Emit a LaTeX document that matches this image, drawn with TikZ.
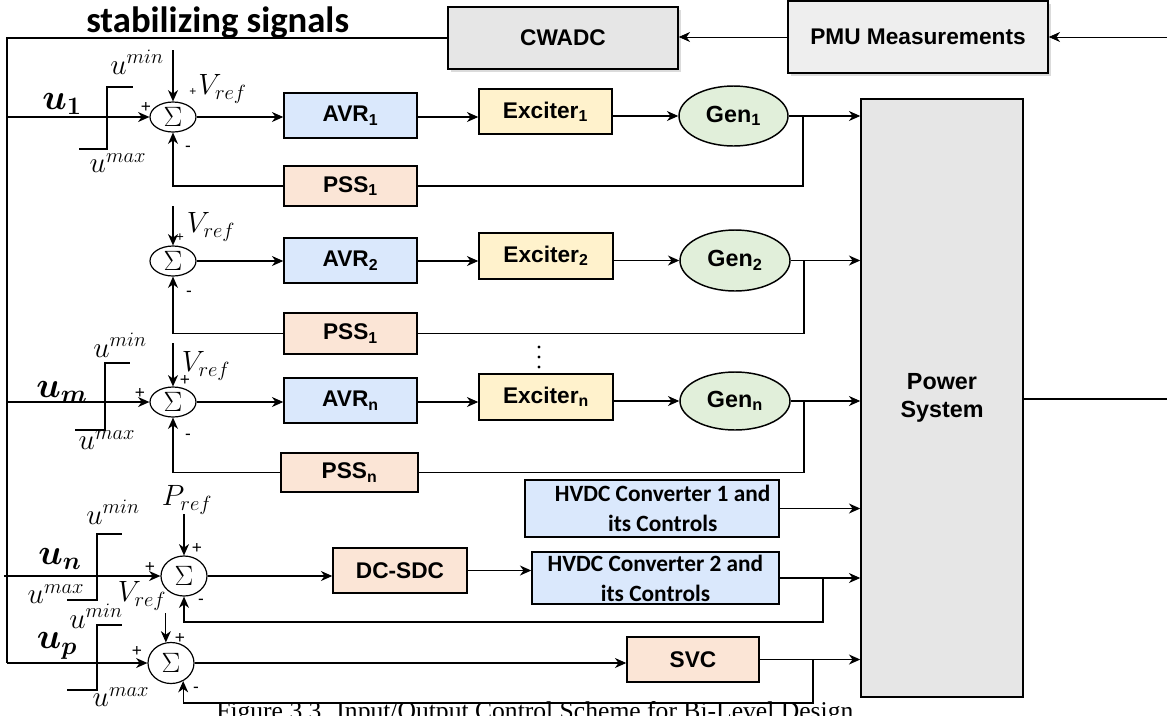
\RequirePackage{fix-cm}
\documentclass[tikz,border=0pt]{standalone}
\usepackage[no-math]{fontspec}
\usepackage{bm}
\setmainfont{Liberation Serif}
\newfontfamily\arialf{Liberation Sans}
\newfontfamily\calibrif{Carlito}
\usetikzlibrary{arrows.meta,shapes.geometric,shadows}

\definecolor{avrc}{HTML}{DAE8FC}
\definecolor{excc}{HTML}{FFF2CC}
\definecolor{genc}{HTML}{E1EFDA}
\definecolor{pssc}{HTML}{FBE5D6}
\definecolor{grayc}{HTML}{E6E6E6}
\definecolor{pmuc}{HTML}{EEEEEE}

\tikzset{
  wire/.style={line width=0.8pt},
  arr/.style={wire,-{Stealth[length=8.5pt,width=7.5pt,inset=2.7pt]}},
  blk/.style 2 args={draw,line width=1.1pt,rectangle,inner sep=0pt,
    minimum width=#1*0.75pt,minimum height=#2*0.75pt,
    font=\arialf\bfseries\fontsize{17}{20}\selectfont},
  genblk/.style 2 args={draw,line width=1.1pt,ellipse,inner sep=0pt,fill=genc,
    minimum width=#1*0.75pt,minimum height=#2*0.75pt,
    font=\arialf\bfseries\fontsize{17.5}{20}\selectfont},
  sumblk/.style 2 args={draw,line width=0.9pt,ellipse,inner sep=0pt,
    minimum width=#1*0.75pt,minimum height=#2*0.75pt,
    font=\fontsize{21}{23}\selectfont},
  hvdcblk/.style 2 args={blk={#1}{#2},fill=avrc,align=center,
    font=\calibrif\bfseries\fontsize{17.5}{22.5}\selectfont},
  boxshadow/.style={drop shadow={shadow xshift=2pt,shadow yshift=-2pt,
    fill=black!40,opacity=0.35}},
  mlbl/.style={inner sep=0pt,font=\fontsize{22}{24}\selectfont},
  ulbl/.style={inner sep=0pt,font=\fontsize{27}{30}\selectfont},
  sgn/.style={inner sep=0pt,font=\arialf\fontsize{13}{14}\selectfont},
  satline/.style={line width=1.1pt},
}

\begin{document}
\begin{tikzpicture}[x=0.75pt,y=-0.75pt]
\useasboundingbox (0,0) rectangle (1167,715);

% ---- supervisory level
\node[blk={230}{62},fill=grayc,boxshadow] (cwadc) at (563,38) {CWADC};
\node[blk={260}{72},fill=pmuc,boxshadow] (pmu) at (918,37) {PMU Measurements};
\node[blk={162}{598},fill=grayc,align=center,font=\arialf\bfseries\fontsize{17.5}{21}\selectfont] (ps) at (942,398) {Power\\System};
\node[anchor=base west,inner sep=0pt,font=\calibrif\bfseries\fontsize{27.5}{30}\selectfont] (title) at (86,32) {stabilizing signals};

% ---- generator 1
\node[sumblk={46}{30}] (s1) at (173,117) {$\Sigma$};
\node[blk={133}{45},fill=avrc] (avr1) at (350.5,115.5) {AVR\textsubscript{1}};
\node[blk={133}{45},fill=excc] (exc1) at (545.5,111.5) {Exciter\textsubscript{1}};
\node[genblk={109}{60}] (gen1) at (733.5,116) {Gen\textsubscript{1}};
\node[blk={133}{40},fill=pssc] (pssa) at (350.5,186) {PSS\textsubscript{1}};

% ---- generator 2
\node[sumblk={46}{30}] (s2) at (173,261) {$\Sigma$};
\node[blk={133}{45},fill=avrc] (avr2) at (350.5,260.5) {AVR\textsubscript{2}};
\node[blk={134}{46},fill=excc] (exc2) at (546,256) {Exciter\textsubscript{2}};
\node[genblk={110}{61}] (gen2) at (735,260.5) {Gen\textsubscript{2}};
\node[blk={133}{41},fill=pssc] (pssb) at (350.5,333.5) {PSS\textsubscript{1}};

% ---- generator n
\node[sumblk={46}{30}] (s3) at (173,402) {$\Sigma$};
\node[blk={133}{45},fill=avrc] (avrn) at (350.5,400.5) {AVR\textsubscript{n}};
\node[blk={134}{46},fill=excc] (excn) at (546,397) {Exciter\textsubscript{n}};
\node[genblk={110}{58}] (genn) at (735,401) {Gen\textsubscript{n}};
\node[blk={137}{39},fill=pssc] (pssn) at (349.5,472.5) {PSS\textsubscript{n}};
\foreach \yy in {347,357,367} \fill (539,\yy) circle (1.7);

% ---- HVDC
\node[sumblk={46}{40}] (s4) at (184,576) {$\Sigma$};
\node[blk={134}{45},fill=pssc] (dcsdc) at (400,570.5) {DC-SDC};
\node[hvdcblk={254}{57}] (hvdc1) at (652,508.5) {\hspace*{16pt}HVDC Converter 1 and\\\hspace*{16pt}its Controls};
\node[hvdcblk={247}{52}] (hvdc2) at (655.5,578) {HVDC Converter 2 and\\its Controls};

% ---- SVC
\node[sumblk={46}{41}] (s5) at (171,663) {$\Sigma$};
\node[blk={132}{45},fill=pssc] (svc) at (693,659.5) {SVC};

% ---- signal bus and measurement loop
\coordinate (busTop) at (7,38);
\coordinate (busBot) at (7,663);
\coordinate (unIn) at (4,576);
\coordinate (pmuIn) at (1167,37);
\coordinate (psOut) at (1167,399);
\draw[wire] (cwadc.west) -- (busTop) -- (busBot);
\draw[arr] (busBot) -- (s5.west);
\draw[arr] (busTop |- s1.west) -- (s1.west);
\draw[arr] (busTop |- s3.west) -- (s3.west);
\draw[arr] (unIn) -- (s4.west);
\draw[arr,line width=0.6pt] (pmuIn) -- (pmu.east);
\draw[arr,line width=0.6pt] (pmu.west) -- (pmu.west -| cwadc.east);
\draw[wire] (ps.east |- psOut) -- (psOut);

% ---- loop 1
\coordinate (v1) at (173,50);
\coordinate (k1) at (803,116);
\draw[arr] (v1) -- (s1.north);
\draw[arr] (s1.east) -- (s1.east -| avr1.west);
\draw[arr] (avr1.east |- s1.east) -- (exc1.west |- s1.east);
\draw[arr] (exc1.east |- gen1.west) -- (gen1.west);
\draw[arr] (gen1.east) -- (gen1.east -| ps.west);
\draw[wire] (k1) |- (pssa.east);
\draw[arr] (pssa.west) -| (s1.south);

% ---- loop 2
\coordinate (v2) at (173,206);
\coordinate (k2) at (804,260.5);
\draw[arr] (v2) -- (s2.north);
\draw[arr] (s2.east) -- (s2.east -| avr2.west);
\draw[arr] (avr2.east |- s2.east) -- (exc2.west |- s2.east);
\draw[arr] (exc2.east |- gen2.west) -- (gen2.west);
\draw[arr] (gen2.east) -- (gen2.east -| ps.west);
\draw[wire] (k2) |- (pssb.east);
\draw[arr] (pssb.west) -| (s2.south);

% ---- loop n
\coordinate (v3) at (173,343);
\coordinate (k3) at (804,401);
\draw[arr] (v3) -- (s3.north);
\draw[arr] (s3.east) -- (s3.east -| avrn.west);
\draw[arr] (avrn.east |- s3.east) -- (excn.west |- s3.east);
\draw[arr] (excn.east |- genn.west) -- (genn.west);
\draw[arr] (genn.east) -- (genn.east -| ps.west);
\draw[wire] (k3) |- (pssn.east);
\draw[arr] (pssn.west) -| (s3.south);

% ---- HVDC loop
\node[mlbl] (pref) at (187,500) {$P_{ref}$};
\coordinate (k4) at (823,578);
\coordinate (fb4) at (0,622);
\draw[arr] (s4.north |- pref.south) -- (s4.north);
\draw[arr] (s4.east) -- (s4.east -| dcsdc.west);
\draw[arr] (dcsdc.east) -- (dcsdc.east -| hvdc2.west);
\draw[arr] (hvdc1.east) -- (hvdc1.east -| ps.west);
\draw[arr] (hvdc2.east) -- (hvdc2.east -| ps.west);
\draw[arr] (k4) |- (s4.south |- fb4) -- (s4.south);

% ---- SVC loop
\coordinate (v5) at (0,613);
\coordinate (k5) at (813,659.5);
\coordinate (fb5) at (0,703);
\draw[arr] (s5.104 |- v5) -- (s5.104);
\draw[arr] (s5.east) -- (s5.east -| svc.west);
\draw[arr] (svc.east) -- (svc.east -| ps.west);
\draw[arr] (k5) |- (s5.-56 |- fb5) -- (s5.-56);

% ---- limiters
\draw[satline] (79,149) -- (107,149) -- (107,87) -- (133,87);
\draw[satline] (75,430) -- (105,430) -- (105,363) -- (130,363);
\draw[satline] (67,600) -- (97,600) -- (97,534) -- (122,534);
\draw[satline] (67,690) -- (97,690) -- (97,625) -- (122,625);

% ---- input and limit labels
\node[ulbl] (u1) at (62,104) {$\bm{u}_{\bm{1}}$};
\node[mlbl] (umin1) at (137,62) {$u^{min}$};
\node[mlbl] (umax1) at (118,163) {$u^{max}$};
\node[ulbl] (um) at (62,392) {$\bm{u}_{\bm{m}}$};
\node[mlbl] (uminm) at (120,345) {$u^{min}$};
\node[mlbl] (umaxm) at (107,440) {$u^{max}$};
\node[ulbl] (un) at (60,559) {$\bm{u}_{\bm{n}}$};
\node[mlbl] (uminn) at (113,512) {$u^{min}$};
\node[mlbl] (umaxn) at (56,594) {$u^{max}$};
\node[ulbl] (up) at (57,646) {$\bm{u}_{\bm{p}}$};
\node[mlbl] (uminp) at (96,616) {$u^{min}$};
\node[mlbl] (umaxp) at (121,697) {$u^{max}$};

% ---- reference labels
\node[mlbl,anchor=west] (vr1) at (198,89) {$V_{ref}$};
\node[mlbl] (vr2) at (211,227) {$V_{ref}$};
\node[mlbl] (vr3) at (206,366) {$V_{ref}$};
\node[mlbl] (vr5) at (142,596) {$V_{ref}$};

% ---- summing-junction signs
\node[sgn,font=\arialf\fontsize{9}{10}\selectfont] (p1t) at (193,92) {+};
\node[sgn] (p1l) at (146,107) {+};
\node[sgn] (m1) at (188,149) {-};
\node[sgn,font=\arialf\fontsize{10}{11}\selectfont] (p2t) at (180,238) {+};
\node[sgn] (m2) at (189,294) {-};
\node[sgn] (p3t) at (185,380) {+};
\node[sgn] (p3l) at (140,393) {+};
\node[sgn] (m3) at (188,437) {-};
\node[sgn] (p4t) at (197,548) {+};
\node[sgn] (p4l) at (150,567) {+};
\node[sgn] (m4) at (201,602) {-};
\node[sgn] (p5t) at (180,638) {+};
\node[sgn] (p5l) at (137,651) {+};
\node[sgn] (m5) at (196,690) {-};

% ---- caption
\node[anchor=base west,inner sep=0pt,font=\fontsize{19.2}{22}\selectfont] (cap) at (216,719) {Figure 3.3. Input/Output Control Scheme for Bi-Level Design};
\end{tikzpicture}
\end{document}
